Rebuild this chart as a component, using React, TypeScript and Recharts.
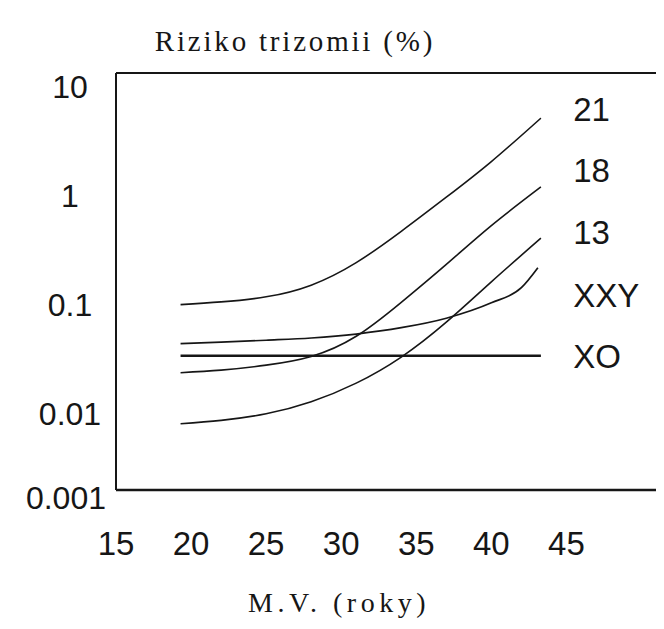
import { ComposedChart, Line, Scatter, XAxis, YAxis, ReferenceLine } from "recharts";

// maternal age (years) sampled along the curves
const AGES = [19.3, 22, 25, 28, 31, 34, 37, 40, 43.3];
const RISK_21 = [0.1, 0.106, 0.118, 0.151, 0.243, 0.47, 0.966, 2.05, 5.13];
const RISK_18 = [0.0238, 0.0251, 0.0279, 0.0335, 0.0513, 0.105, 0.234, 0.531, 1.2];
const RISK_13 = [0.0081, 0.0087, 0.01, 0.0129, 0.0191, 0.0331, 0.0692, 0.162, 0.407];

const XXY_AGES = [19.3, 22, 25, 28, 31, 34, 37, 40, 42, 43.1];
const RISK_XXY = [0.0439, 0.0453, 0.0472, 0.0495, 0.0538, 0.0615, 0.0751, 0.104, 0.143, 0.218];

const XO_AGES = [19.3, 43.3];
const RISK_XO = [0.034, 0.034];

// curve names at the right side, with the risk level each sits at
const SERIES_NAMES = ["21", "18", "13", "XXY", "XO"];
const NAME_RISK = [6.2, 1.71, 0.464, 0.123, 0.034];
const NAME_AGE = 45.45;

const X_TICKS = [15, 20, 25, 30, 35, 40, 45];
// the source figure squeezes its last decade: the axis floor is printed as 0.001
const Y_FLOOR = 0.002;
const Y_CEIL = 13.3;
const Y_TICKS = [Y_FLOOR, 0.01, 0.1, 1, 10];
const Y_TICK_LABELS = ["0.001", "0.01", "0.1", "1", "10"];

const INK = "#161616";
const SANS = "'Liberation Sans', Arial, sans-serif";
const SERIF = "'Liberation Serif', 'Times New Roman', serif";

const toRows = (ages: number[], risks: number[]) => ages.map((age, i) => ({ age, risk: risks[i] }));

const curves = [
  { key: "21", data: toRows(AGES, RISK_21), width: 1.6, type: "natural" },
  { key: "18", data: toRows(AGES, RISK_18), width: 1.6, type: "natural" },
  { key: "13", data: toRows(AGES, RISK_13), width: 1.6, type: "natural" },
  { key: "XXY", data: toRows(XXY_AGES, RISK_XXY), width: 1.7, type: "monotone" },
  { key: "XO", data: toRows(XO_AGES, RISK_XO), width: 2.4, type: "linear" },
];

const nameRows = SERIES_NAMES.map((name, i) => ({ age: NAME_AGE, risk: NAME_RISK[i], name }));

function XTick({ x, y, payload }: any) {
  return (
    <text x={x} y={y + 65} textAnchor="middle" fontSize={33} fontFamily={SANS} fill={INK}>
      {payload.value}
    </text>
  );
}

function YTick({ y, payload }: any) {
  const i = Y_TICKS.indexOf(payload.value);
  const floor = payload.value === Y_FLOOR;
  return (
    <text
      x={floor ? 106 : 70}
      y={y + (floor ? 7 : 0)}
      dy="0.36em"
      textAnchor={floor ? "end" : "middle"}
      fontSize={32}
      fontFamily={SANS}
      fill={INK}
    >
      {Y_TICK_LABELS[i]}
    </text>
  );
}

function NameShape({ cx, cy, payload }: any) {
  return (
    <text x={cx} y={cy} dy="0.36em" fontSize={33} fontFamily={SANS} fill={INK}>
      {payload.name}
    </text>
  );
}

export default function App() {
  return (
    <div style={{ position: "relative", width: 664, height: 629, margin: -8, background: "#fff" }}>
      <ComposedChart width={664} height={629} margin={{ top: 73, right: 0, bottom: 0, left: 0 }}>
        <XAxis
          type="number"
          dataKey="age"
          domain={[15, 51.5]}
          ticks={X_TICKS}
          allowDataOverflow
          height={139}
          tickLine={false}
          tickSize={0}
          tickMargin={0}
          axisLine={{ stroke: INK, strokeWidth: 2.6 }}
          tick={<XTick />}
        />
        <YAxis
          type="number"
          scale="log"
          domain={[Y_FLOOR, Y_CEIL]}
          ticks={Y_TICKS}
          allowDataOverflow
          width={116}
          tickLine={false}
          axisLine={{ stroke: INK, strokeWidth: 2 }}
          tick={<YTick />}
        />
        <ReferenceLine y={Y_CEIL} stroke={INK} strokeWidth={2.2} />
        {curves.map((c) => (
          <Line
            key={c.key}
            data={c.data}
            dataKey="risk"
            type={c.type as any}
            stroke={INK}
            strokeWidth={c.width}
            dot={false}
            activeDot={false}
            isAnimationActive={false}
          />
        ))}
        <Scatter data={nameRows} dataKey="risk" shape={<NameShape />} isAnimationActive={false} />
      </ComposedChart>
      <svg width={664} height={629} style={{ position: "absolute", left: 0, top: 0, pointerEvents: "none" }}>
        <text x={295} y={51} textAnchor="middle" fontSize={29} fontFamily={SERIF} letterSpacing={2.8} fill={INK}>
          Riziko trizomii (%)
        </text>
        <text x={339} y={612} textAnchor="middle" fontSize={28} fontFamily={SERIF} letterSpacing={4.5} fill={INK}>
          M.V. (roky)
        </text>
      </svg>
    </div>
  );
}
